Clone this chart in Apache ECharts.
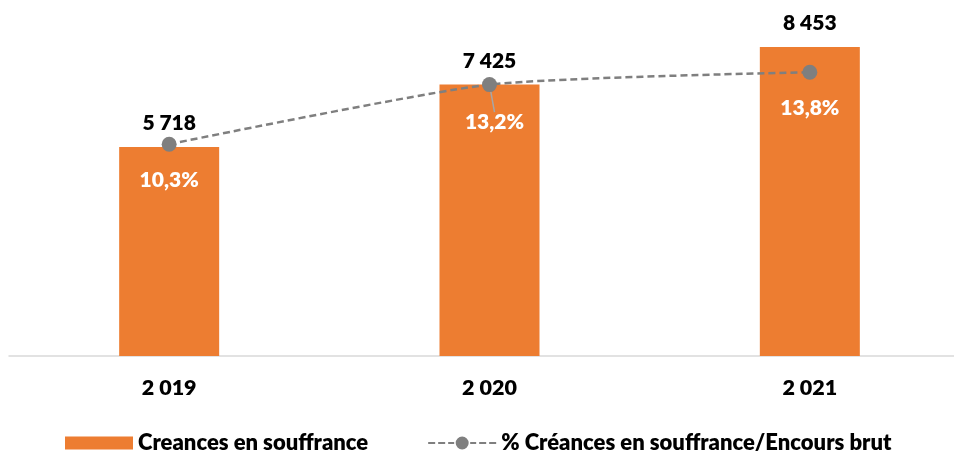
<!DOCTYPE html>
<html>
<head>
<meta charset="utf-8">
<script src="https://cdn.jsdelivr.net/npm/echarts@6/dist/echarts.min.js"></script>
<style>
  html, body { margin: 0; padding: 0; background: #fff; overflow: hidden; }
  /* the plot area runs past the right edge of the window in the original */
  #chart { width: 970px; height: 452px; }
</style>
</head>
<body>
<div id="chart"></div>
<script>
var categories = ['2 019', '2 020', '2 021']
var creances = [5718, 7425, 8453]
var ratio = [10.3, 13.2, 13.8]

var ORANGE = '#ED7D31'
var GREY = '#7F7F7F'
var FONT = 'Lato'
var WEIGHT = 800

// legend glyph for the ratio line: three dashes, a dot, three dashes
var DASH_DOT_ICON = 'path://M0 5.5H7V7.5H0Z M10 5.5H17V7.5H10Z M20 5.5H26V7.5H20Z' +
  'M27.5 6.5A6.5 6.5 0 1 1 40.5 6.5A6.5 6.5 0 1 1 27.5 6.5Z' +
  'M42 5.5H48V7.5H42Z M51 5.5H58V7.5H51Z M61 5.5H68V7.5H61Z'

function fmtThousands (v) {
  return String(v).replace(/\B(?=(\d{3})+(?!\d))/g, ' ')
}

// only the middle point has a leader line in the original
var ratioData = ratio.map(function (v, i) {
  return i === 1 ? { value: v, labelLine: { show: true } } : v
})

var option = {
  backgroundColor: '#fff',
  animation: false,
  textStyle: { fontFamily: FONT },
  grid: { left: 9, right: 0, top: 27, bottom: 96 },
  legend: {
    left: 60,
    top: 427,
    itemWidth: 68,
    itemHeight: 13,
    itemGap: 60,
    textStyle: { fontFamily: FONT, fontWeight: WEIGHT, fontSize: 22, color: '#000' },
    data: [
      { name: 'Creances en souffrance', icon: 'rect' },
      { name: '% Créances en souffrance/Encours brut', icon: DASH_DOT_ICON, itemStyle: { color: GREY } }
    ]
  },
  xAxis: {
    type: 'category',
    data: categories,
    axisLine: { lineStyle: { color: '#D9D9D9', width: 1.5 } },
    axisTick: { show: false },
    axisLabel: { margin: 21, fontFamily: FONT, fontWeight: WEIGHT, fontSize: 21.5, color: '#000' }
  },
  yAxis: [
    { type: 'value', min: 0, max: 9000, show: false, splitLine: { show: false } },
    { type: 'value', min: 0, max: 16, show: false, splitLine: { show: false } }
  ],
  series: [
    {
      name: 'Creances en souffrance',
      type: 'bar',
      barWidth: 100,
      data: creances,
      itemStyle: { color: ORANGE },
      label: {
        show: true,
        position: 'top',
        distance: 13,
        fontFamily: FONT,
        fontWeight: WEIGHT,
        fontSize: 21,
        color: '#000',
        formatter: function (p) { return fmtThousands(p.value) }
      }
    },
    {
      name: '% Créances en souffrance/Encours brut',
      type: 'line',
      yAxisIndex: 1,
      smooth: 0.2,
      symbol: 'circle',
      symbolSize: 15,
      data: ratioData,
      itemStyle: { color: GREY },
      lineStyle: { color: GREY, width: 2.5, type: [7, 4] },
      label: {
        show: true,
        position: 'bottom',
        distance: 18,
        fontFamily: FONT,
        fontWeight: WEIGHT,
        fontSize: 21,
        color: '#fff',
        formatter: function (p) { return String(p.value).replace('.', ',') + '%' }
      },
      labelLine: { show: false, lineStyle: { color: '#A6A6A6', width: 1.5 } },
      labelLayout: function (params) {
        if (params.dataIndex === 1) {
          return { dx: 5, dy: 2 }
        }
        return {}
      }
    }
  ]
}

var chart = echarts.init(document.getElementById('chart'))
chart.setOption(option)
</script>
</body>
</html>
